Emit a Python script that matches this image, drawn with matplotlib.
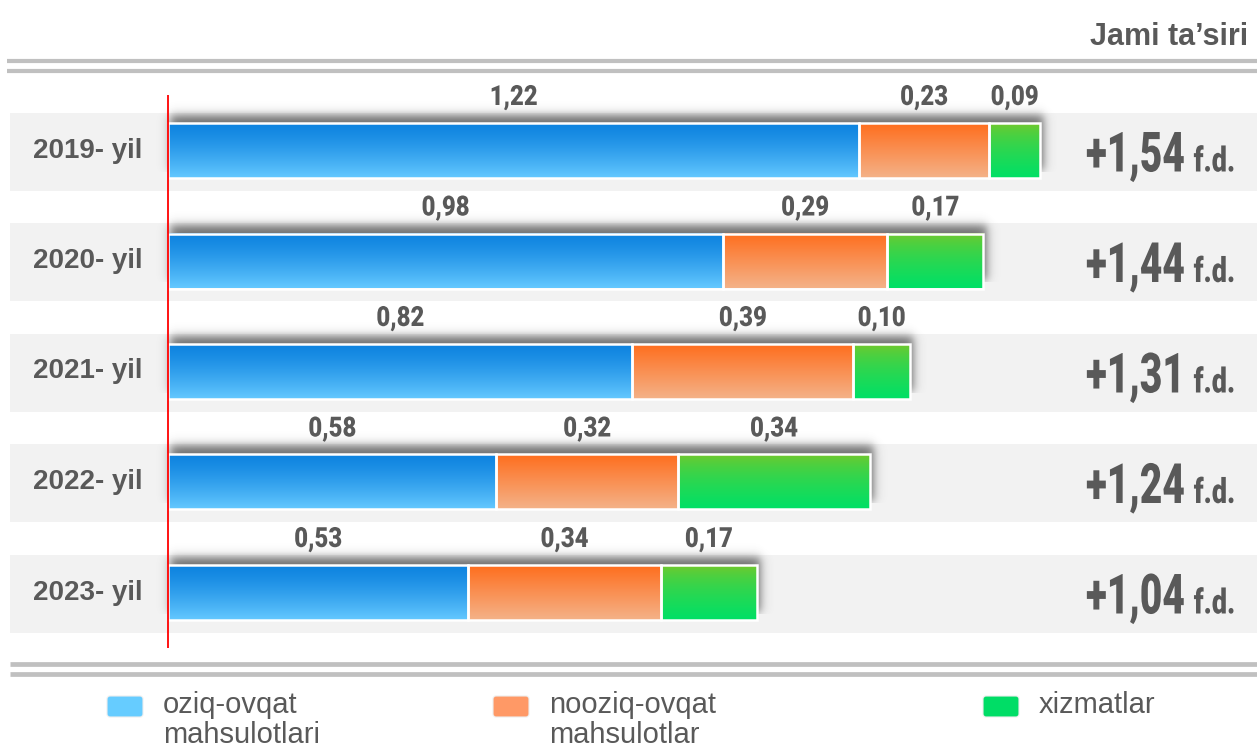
import numpy as np
import matplotlib
matplotlib.use("Agg")
import matplotlib.pyplot as plt
from matplotlib.patches import Rectangle, FancyBboxPatch
from matplotlib.transforms import Affine2D, Bbox
from matplotlib.patheffects import AbstractPathEffect
from matplotlib.text import Text
from matplotlib import font_manager as fm

# ---------------- data ----------------
years = ["2019- yil", "2020- yil", "2021- yil", "2022- yil", "2023- yil"]
food = [1.22, 0.98, 0.82, 0.58, 0.53]          # oziq-ovqat mahsulotlari
nonfood = [0.23, 0.29, 0.39, 0.32, 0.34]       # nooziq-ovqat mahsulotlar
services = [0.09, 0.17, 0.10, 0.34, 0.17]      # xizmatlar
series_names = ["oziq-ovqat\nmahsulotlari", "nooziq-ovqat\nmahsulotlar", "xizmatlar"]
unit = "f.d."
header = "Jami ta\u2019siri"

# ---------------- style ----------------
W, H = 1257, 746
TXT = "#595959"
BAND = "#f2f2f2"
LINE = "#c0c0c0"
grad_cols = [((14, 132, 224), (100, 200, 255), 1.3),
             ((255, 110, 30), (244, 178, 136), 1.0),
             ((124, 198, 40), (0, 224, 102), 0.6)]
legend_cols = ["#66ccff", "#ff9966", "#00dd66"]

names = {f.name for f in fm.fontManager.ttflist}
REG = "Liberation Sans" if "Liberation Sans" in names else "DejaVu Sans"
HEAVY = "Roboto" if "Roboto" in names else "DejaVu Sans"


class Squeeze(AbstractPathEffect):
    """Draw text glyphs horizontally condensed (text stays a Text object)."""
    def __init__(self, sx, anchor="left"):
        super().__init__()
        self.sx = sx
        self.anchor = anchor

    def draw_path(self, renderer, gc, tpath, affine, rgbFace=None):
        if self.anchor == "center":
            ext = tpath.get_extents()
            cx = (ext.x0 + ext.x1) / 2
        else:
            cx = 0.0
        t = Affine2D().translate(-cx, 0).scale(self.sx, 1).translate(cx, 0) + affine
        renderer.draw_path(gc, tpath, t, rgbFace)


class CondensedText(Text):
    """A real Text whose glyphs are drawn condensed; extent reports the condensed box."""
    def __init__(self, *args, sx=1.0, anchor="left", **kw):
        super().__init__(*args, **kw)
        self._sx = sx
        self._anchor = anchor
        self.set_path_effects([Squeeze(sx, anchor)])

    def get_window_extent(self, renderer=None, dpi=None):
        bb = super().get_window_extent(renderer, dpi)
        w = bb.width * self._sx
        if self._anchor == "left":
            return Bbox.from_extents(bb.x0, bb.y0, bb.x0 + w, bb.y1)
        c = (bb.x0 + bb.x1) / 2
        return Bbox.from_extents(c - w / 2, bb.y0, c + w / 2, bb.y1)


def ctext(ax, x, y, s, sx, anchor, **kw):
    t = CondensedText(x, y, s, sx=sx, anchor=anchor, **kw)
    if "transform" not in kw:
        t.set_transform(ax.transData)
    ax._add_text(t)
    return t


fig = plt.figure(figsize=(W / 100, H / 100), dpi=100)
ax = fig.add_axes([0, 0, 1, 1])
ax.axis("off")
ax.set_autoscale_on(False)

series = [food, nonfood, services]
totals = [sum(v) for v in zip(*series)]
x0_px = 168
ppu = (1040 - x0_px) / max(totals)        # pixels per unit
row0_px, ppr = 150.5, 110.5               # first row centre, pixels per row
ax.set_xlim(-x0_px / ppu, (W - x0_px) / ppu)
ax.set_ylim((H - row0_px) / ppr, -row0_px / ppr)
dx = lambda p: p / ppu
dy = lambda p: p / ppr
pix = Affine2D().scale(1 / W, -1 / H).translate(0, 1) + fig.transFigure


def fmt(v):
    return f"{v:.2f}".replace(".", ",")


n = len(years)
bh = dy(55)
xl, xr = ax.get_xlim()
sig = lambda z: 1 / (1 + np.exp(-z))

for i in range(n):
    # background band
    ax.add_patch(Rectangle((xl + dx(10), i - dy(38)), xr - xl, dy(78),
                           facecolor=BAND, edgecolor="none", zorder=1))
    ax.text(dx(88 - x0_px), i, years[i], ha="center", va="center",
            fontsize=20, fontweight="bold", color=TXT, family=REG, zorder=6)

    # soft shadow behind the bar
    tot = totals[i]
    L, R = x0_px + 2, x0_px + tot * ppu + 4
    T = row0_px + i * ppr - 27.5 - 8
    B = row0_px + i * ppr + 20
    xs = np.arange(L - 14, R + 14)
    ys = np.arange(T - 14, B + 2)
    s = 2.8
    a = (sig((xs - L) / s) * sig((R - xs) / s))[None, :] * \
        (sig((ys - T) / s) * sig((B - ys) / s))[:, None]
    img = np.zeros((len(ys), len(xs), 4))
    img[..., :3] = 0.22
    img[..., 3] = 0.7 * a
    ax.imshow(img, extent=(dx(xs[0] - x0_px), dx(xs[-1] - x0_px),
                           (ys[-1] - row0_px) / ppr, (ys[0] - row0_px) / ppr),
              aspect="auto", interpolation="bilinear", zorder=2)

    left = 0.0
    for k, vals in enumerate(series):
        v = vals[i]
        top_c, bot_c, gam = grad_cols[k]
        t = np.linspace(0, 1, 64) ** gam
        g = (np.array(top_c)[None, :] * (1 - t[:, None]) +
             np.array(bot_c)[None, :] * t[:, None]) / 255.0
        g = g[:, None, :]
        ax.imshow(g, extent=(left, left + v, i + bh / 2, i - bh / 2),
                  aspect="auto", interpolation="bilinear", zorder=3)
        ax.add_patch(Rectangle((left, i - bh / 2), v, bh, facecolor="none",
                               edgecolor="white", linewidth=1.8, zorder=4))
        ctext(ax, left + v / 2, i - bh / 2 - dy(18), fmt(v), 0.86, "center",
              ha="center", va="baseline", fontsize=20, color=TXT, zorder=6,
              family=HEAVY, fontweight=900)
        left += v

# red baseline
ax.plot([0, 0], [-0.5, n - 1 + 0.5], color="#ff0000", lw=1.3, zorder=5,
        solid_capstyle="butt")

# totals on the right
SX_TOT, SX_UNIT = 0.70, 0.78
tot_texts = []
for i in range(n):
    t1 = ctext(ax, 1086, row0_px + i * ppr + 21, "+" + fmt(totals[i]),
               SX_TOT, "left", transform=pix, ha="left", va="baseline",
               fontsize=40, color=TXT, zorder=6, family=HEAVY, fontweight=900)
    tot_texts.append(t1)

# header and double rules
fig.text(1248, 45, header, transform=pix, ha="right", va="baseline",
         fontsize=22, fontweight="bold", color=TXT, family=REG)
for yy in (61.3, 71):
    ax.plot([7, W], [yy, yy], transform=pix, color=LINE, lw=3, zorder=5,
            solid_capstyle="butt")
for yy in (663.5, 673.5):
    ax.plot([10, W], [yy, yy], transform=pix, color=LINE, lw=3.4, zorder=5,
            solid_capstyle="butt")

# legend
leg_x = [107, 493, 983]
for k in range(3):
    ax.add_patch(FancyBboxPatch((leg_x[k] + 3, 699), 30, 15,
                                boxstyle="round,pad=3", transform=pix,
                                facecolor=legend_cols[k], edgecolor="#eeeeee",
                                lw=0.8, zorder=5, clip_on=False))
    for j, line in enumerate(series_names[k].split("\n")):
        ax.text(leg_x[k] + 56, 713 + 30 * j, line, transform=pix,
                ha="left", va="baseline", fontsize=21, color=TXT,
                family=REG, zorder=6, clip_on=False)

fig.canvas.draw()
r = fig.canvas.get_renderer()
for i, t1 in enumerate(tot_texts):
    bb = t1.get_window_extent(renderer=r)
    ctext(ax, bb.x1 + 9, row0_px + i * ppr + 21, unit, SX_UNIT, "left",
          transform=pix, ha="left", va="baseline", fontsize=25, color=TXT,
          zorder=6, family=HEAVY, fontweight=900)

fig.savefig("out.png", dpi=100)
